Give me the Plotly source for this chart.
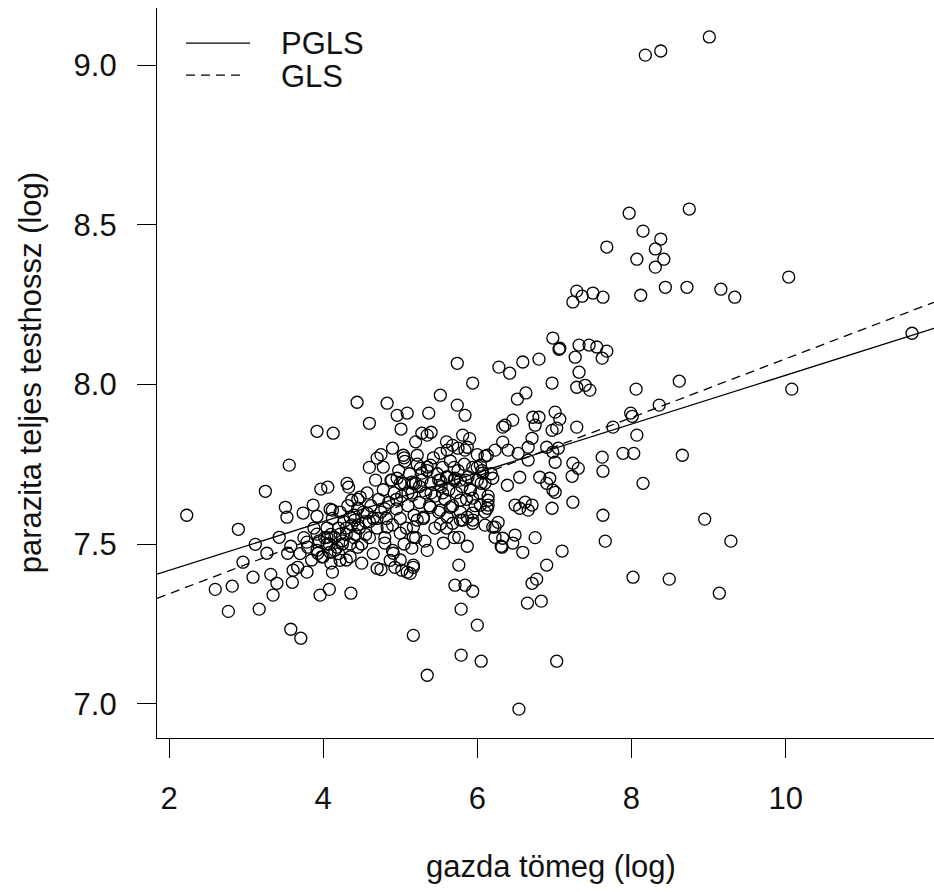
import plotly.graph_objects as go

# log host body mass (x) and log total parasite body length (y), one entry per species
host_mass_log = [
    # upper outliers and large hosts
    8.18, 8.38, 9.01, 7.97, 8.75, 8.15, 8.38, 7.68, 8.31, 8.07, 8.42, 8.31, 10.04, 7.29,
    7.50, 7.24, 7.36, 7.63, 8.12, 8.44, 8.72, 9.16, 9.34, 11.64,
    7.07, 7.32, 7.45, 7.55, 7.68, 7.27, 7.62, 7.32, 7.29, 7.40, 7.46, 8.06, 8.62, 10.08,
    8.36, 7.99, 8.01, 7.76, 7.29, 8.07, 7.89, 8.03, 8.66, 7.62, 7.24, 7.31, 7.23, 7.63,
    8.15, 7.24, 7.63, 8.95, 7.66, 9.29, 7.10, 8.02, 8.49, 9.14,
    # lower middle
    6.75, 6.90, 6.77, 6.71, 6.65, 6.83, 6.59, 6.49, 6.46, 6.31, 6.23, 6.20, 6.10, 5.87,
    5.76, 5.76, 5.71, 5.84, 5.94, 5.79, 6.00, 5.17, 5.79, 6.05, 7.03, 5.35, 6.54, 5.56,
    5.32, 5.52, 4.83, 5.00, 5.17, 5.15, 4.87, 5.02, 5.13, 5.17, 4.80, 4.91,
    # small hosts
    4.44, 3.92, 4.13, 3.56, 3.25, 2.23, 3.51, 3.53, 2.90, 3.74, 3.87, 3.92, 3.97, 4.06,
    4.31, 4.33, 4.09, 3.12, 3.43, 3.27, 3.58, 3.54, 2.96, 3.79, 3.93, 3.09, 3.32, 2.82,
    2.60, 3.40, 3.61, 3.67, 3.60, 3.79, 3.35, 2.77, 3.17, 3.96, 4.08, 4.36, 3.58, 3.71,
    4.09, 4.12, 4.22, 4.37, 4.41, 3.92, 4.05, 4.22,
    4.83, 4.96, 5.09, 5.37, 4.60, 5.01, 5.28, 5.35, 5.52,
    # upper middle
    6.98, 7.06, 5.74, 6.28, 6.42, 6.59, 6.80, 5.94, 6.97, 5.74, 5.84, 6.52, 6.63, 6.72,
    6.80, 6.75, 7.01, 7.07, 7.03, 6.97, 6.46, 6.33, 6.36, 5.81, 6.71, 6.33, 5.87, 5.68,
    5.61, 5.52, 6.10, 6.23, 6.40, 6.53, 6.66, 6.90, 6.98, 7.05, 7.01, 6.04, 6.20, 6.39,
    6.55, 6.81, 6.94, 6.90, 7.01, 6.49, 6.62, 6.71, 6.66, 6.55, 6.97, 6.14, 6.10, 6.27,
    5.94, 5.52, 5.61, 5.78,
    4.70, 4.78, 5.04, 5.06, 5.22, 5.26, 5.35, 4.89, 5.00, 5.17, 5.52, 5.61, 5.71, 4.45,
    4.57, 4.35, 4.70, 4.93, 5.09, 5.17, 4.48, 4.12, 4.96, 5.15, 5.28, 5.39, 5.39, 5.30,
    5.22, 5.17, 5.84, 6.13, 6.66, 6.07, 6.98, 6.13, 6.04, 6.14, 5.87, 5.94, 6.23, 6.33,
    6.32, 5.78, 5.91, 5.94, 5.78, 5.65, 5.81, 5.68, 5.94,
    # central cloud
    4.02, 4.05, 4.08, 4.10, 4.12, 4.15, 4.18, 4.20, 4.22, 4.25, 4.27, 4.30, 4.32, 4.35,
    4.37, 4.40, 4.42, 4.45, 4.47, 4.50, 4.52, 4.55, 4.57, 4.60, 4.62, 4.65, 4.68, 4.70,
    4.72, 4.75, 4.78, 4.80, 4.82, 4.85, 4.88, 4.90, 4.92, 4.95, 4.98, 5.00, 5.02, 5.05,
    5.08, 5.10, 5.12, 5.15, 5.18, 5.20, 5.22, 5.25, 5.28, 5.30, 5.33, 5.35, 5.38, 5.40,
    5.43, 5.45, 5.48, 5.50, 5.53, 5.55, 5.58, 5.60, 5.63, 5.65, 5.68, 5.70, 5.73, 5.75,
    5.78, 5.80, 5.83, 5.86, 5.88, 5.91, 5.94, 5.97, 6.00, 6.03, 6.06, 6.10, 6.14, 6.18,
    3.70, 3.75, 3.80, 3.85, 3.88, 3.92, 3.95, 3.98,
    4.30, 4.50, 4.65, 4.75, 4.90, 5.00, 5.05, 5.20, 5.35, 5.45, 5.60, 5.70,
    4.60, 4.75, 4.90, 5.05, 5.20, 5.40, 5.60, 5.75, 5.90, 6.00,
    4.00, 4.10, 4.20, 4.35, 4.45,
    4.05, 4.15, 4.25, 4.30, 4.40, 4.45, 4.55, 4.60, 4.70, 4.80, 4.95, 5.10, 5.25, 5.40,
    5.50, 5.55, 5.70, 5.85, 6.00, 6.05,
]

parasite_length_log = [
    9.031, 9.044, 9.088, 8.536, 8.549, 8.480, 8.455, 8.430, 8.424, 8.392, 8.392, 8.367, 8.336, 8.292,
    8.286, 8.258, 8.276, 8.273, 8.279, 8.304, 8.304, 8.298, 8.273, 8.160,
    8.113, 8.123, 8.123, 8.117, 8.104, 8.085, 8.082, 8.038, 7.991, 7.997, 7.982, 7.985, 8.010, 7.985,
    7.935, 7.910, 7.900, 7.866, 7.866, 7.841, 7.784, 7.784, 7.778, 7.772, 7.753, 7.737, 7.712, 7.728,
    7.690, 7.631, 7.590, 7.578, 7.509, 7.509, 7.478, 7.396, 7.390, 7.346,
    7.520, 7.434, 7.390, 7.377, 7.315, 7.321, 7.474, 7.528, 7.503, 7.493, 7.521, 7.553, 7.559, 7.493,
    7.521, 7.434, 7.371, 7.371, 7.352, 7.296, 7.246, 7.214, 7.152, 7.133, 7.133, 7.089, 6.983, 7.503,
    7.509, 7.562, 7.553, 7.534, 7.521, 7.487, 7.449, 7.418, 7.408, 7.427, 7.503, 7.471,
    7.944, 7.853, 7.847, 7.747, 7.665, 7.590, 7.615, 7.584, 7.546, 7.597, 7.622, 7.587, 7.672, 7.678,
    7.690, 7.678, 7.609, 7.499, 7.521, 7.471, 7.493, 7.471, 7.443, 7.506, 7.471, 7.396, 7.405, 7.368,
    7.358, 7.377, 7.418, 7.427, 7.380, 7.412, 7.340, 7.289, 7.296, 7.340, 7.358, 7.346, 7.233, 7.205,
    7.474, 7.412, 7.449, 7.637, 7.575, 7.531, 7.521, 7.531,
    7.941, 7.903, 7.910, 7.910, 7.878, 7.860, 7.847, 7.841, 7.966,
    8.145, 8.110, 8.066, 8.054, 8.035, 8.070, 8.079, 8.004, 8.004, 7.935, 7.903, 7.954, 7.973, 7.897,
    7.897, 7.872, 7.913, 7.891, 7.863, 7.856, 7.888, 7.866, 7.872, 7.841, 7.831, 7.819, 7.803, 7.809,
    7.794, 7.784, 7.775, 7.794, 7.794, 7.784, 7.763, 7.803, 7.788, 7.800, 7.756, 7.747, 7.706, 7.684,
    7.709, 7.709, 7.706, 7.690, 7.662, 7.622, 7.631, 7.622, 7.606, 7.612, 7.612, 7.622, 7.600, 7.568,
    7.565, 7.606, 7.584, 7.575,
    7.769, 7.741, 7.778, 7.759, 7.778, 7.737, 7.741, 7.700, 7.690, 7.690, 7.700, 7.709, 7.706, 7.612,
    7.597, 7.584, 7.424, 7.427, 7.412, 7.434, 7.647, 7.606, 7.706, 7.694, 7.722, 7.747, 7.615, 7.584,
    7.575, 7.553, 7.794, 7.778, 7.803, 7.722, 7.669, 7.612, 7.622, 7.637, 7.584, 7.597, 7.553, 7.518,
    7.490, 7.700, 7.669, 7.644, 7.637, 7.615, 7.575, 7.565, 7.575,
    7.52, 7.55, 7.50, 7.53, 7.58, 7.52, 7.49, 7.55, 7.60, 7.51, 7.57, 7.53, 7.62, 7.50,
    7.56, 7.59, 7.53, 7.64, 7.55, 7.50, 7.60, 7.57, 7.66, 7.52, 7.62, 7.58, 7.70, 7.55,
    7.64, 7.60, 7.67, 7.52, 7.58, 7.63, 7.70, 7.56, 7.66, 7.61, 7.73, 7.58, 7.65, 7.69,
    7.55, 7.62, 7.72, 7.66, 7.59, 7.69, 7.75, 7.63, 7.70, 7.58, 7.66, 7.73, 7.62, 7.69,
    7.77, 7.65, 7.72, 7.60, 7.68, 7.74, 7.64, 7.71, 7.67, 7.76, 7.62, 7.70, 7.66, 7.73,
    7.60, 7.68, 7.75, 7.64, 7.71, 7.67, 7.74, 7.62, 7.70, 7.66, 7.73, 7.69, 7.65, 7.72,
    7.47, 7.52, 7.49, 7.45, 7.55, 7.48, 7.51, 7.46,
    7.45, 7.44, 7.47, 7.42, 7.48, 7.45, 7.50, 7.52, 7.48, 7.55, 7.55, 7.52,
    7.74, 7.78, 7.80, 7.77, 7.82, 7.85, 7.82, 7.80, 7.83, 7.78,
    7.46, 7.44, 7.47, 7.46, 7.49,
    7.50, 7.48, 7.50, 7.55, 7.52, 7.56, 7.53, 7.57, 7.58, 7.61, 7.64, 7.66, 7.68, 7.66,
    7.70, 7.66, 7.74, 7.70, 7.74, 7.69,
]

# fitted regression lines: (intercept, slope)
pgls_coef = (7.2646, 0.0764)
gls_coef = (7.160, 0.0920)

x_range = [1.8443, 11.925]
y_range = [6.8925, 9.1786]
x_ticks = [2, 4, 6, 8, 10]
y_ticks = [7.0, 7.5, 8.0, 8.5, 9.0]
y_ticktext = ["7.0", "7.5", "8.0", "8.5", "9.0"]

FONT = "Liberation Sans, Arial, sans-serif"
INK = "#111111"

fig = go.Figure()

fig.add_trace(go.Scatter(
    x=host_mass_log, y=parasite_length_log, mode="markers",
    marker=dict(symbol="circle-open", size=12, color="black", line=dict(width=1.3)),
    showlegend=False, hoverinfo="skip",
))


def fit_line(coef):
    a, b = coef
    return [a + b * x_range[0], a + b * x_range[1]]


fig.add_trace(go.Scatter(
    x=x_range, y=fit_line(pgls_coef), mode="lines",
    line=dict(color="black", width=1.3), showlegend=False, hoverinfo="skip",
))
fig.add_trace(go.Scatter(
    x=x_range, y=fit_line(gls_coef), mode="lines",
    line=dict(color="black", width=1.3, dash="9px,6px"), showlegend=False, hoverinfo="skip",
))

axis_common = dict(
    showgrid=False, zeroline=False, showline=True, linecolor="black", linewidth=1.3,
    ticks="outside", ticklen=19, tickwidth=1.3, tickcolor="black",
    tickfont=dict(family=FONT, size=31, color=INK),
)

fig.update_layout(
    width=934, height=892,
    margin=dict(l=157, r=0, t=8, b=154),
    paper_bgcolor="white", plot_bgcolor="white",
    xaxis=dict(range=x_range, tickvals=x_ticks, ticklabelstandoff=14, **axis_common),
    yaxis=dict(range=y_range, tickvals=y_ticks, ticktext=y_ticktext,
               ticklabelstandoff=14, **axis_common),
    showlegend=False,
)

# legend drawn in the top-left corner of the panel
fig.add_shape(type="line", xref="paper", yref="paper", x0=0.0373, x1=0.1197, y0=0.952, y1=0.952,
              line=dict(color="black", width=1.3))
fig.add_shape(type="line", xref="paper", yref="paper", x0=0.0373, x1=0.1145, y0=0.908, y1=0.908,
              line=dict(color="black", width=1.3, dash="9px,6px"))
for label, yy in (("PGLS", 0.952), ("GLS", 0.906)):
    fig.add_annotation(text=label, xref="paper", yref="paper", x=0.157, y=yy,
                       xanchor="left", yanchor="middle", showarrow=False,
                       font=dict(family=FONT, size=31, color=INK))

# axis titles
fig.add_annotation(text="gazda tömeg (log)", xref="paper", yref="paper", x=0.507, y=-0.176,
                   xanchor="center", yanchor="middle", showarrow=False,
                   font=dict(family=FONT, size=31, color=INK))
fig.add_annotation(text="parazita teljes testhossz (log)", xref="paper", yref="paper",
                   x=-0.163, y=0.5, xanchor="center", yanchor="middle", textangle=-90,
                   showarrow=False, font=dict(family=FONT, size=31, color=INK))

fig.write_html("out.html", config={"displayModeBar": False})
